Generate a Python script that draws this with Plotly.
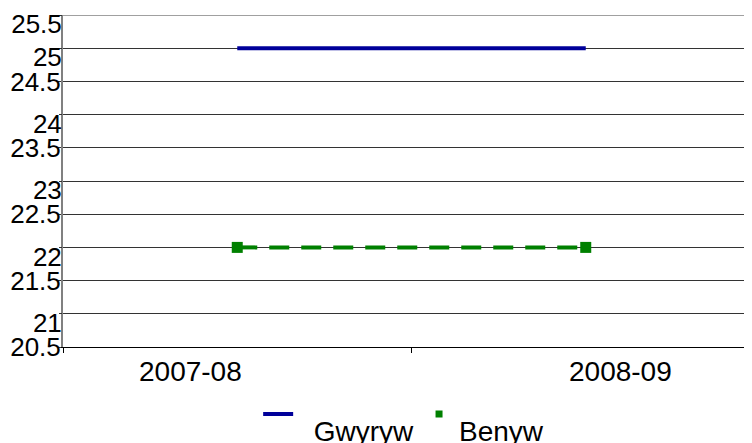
import plotly.graph_objects as go

categories = ["2007-08", "2008-09"]
gwyryw = [25, 25]
benyw = [22, 22]
half_ticks = [20.5, 21.5, 22.5, 23.5, 24.5]
half_labels = ["20.5", "21.5", "22.5", "23.5", "24.5"]
upper_ticks = [21, 22, 23, 24, 25, 25.5]
upper_labels = ["21", "22", "23", "24", "25", "25.5"]
series_names = ["Gwyryw", "Benyw"]

BLUE = "#00009A"
GREEN = "#008000"
FONT = "Liberation Sans, Arial, sans-serif"

fig = go.Figure()
fig.add_trace(go.Scatter(
    x=categories, y=gwyryw, name="\u00a0<br><span style='font-size:28px'>\u00a0\u00a0" + series_names[0] + "</span>",
    mode="lines", line=dict(color=BLUE, width=4), yaxis="y2", legendgroup="g",
))
fig.add_trace(go.Scatter(
    x=categories, y=benyw, name=series_names[1], mode="lines+markers",
    line=dict(color=GREEN, width=4, dash="20px,12px"),
    marker=dict(symbol="square", size=11, color=GREEN),
    showlegend=False, legendgroup="b",
))
# legend-only entry (no data) so that the key shows just the small square
fig.add_trace(go.Scatter(
    x=[None], y=[None], name="\u00a0<br><span style='font-size:28px'>" + series_names[1] + "</span>",
    mode="markers", marker=dict(symbol="square", size=7, color=GREEN),
    legendgroup="b",
))

fig.update_layout(
    width=752, height=443,
    margin=dict(l=55, r=0, t=7, b=104, autoexpand=False),
    paper_bgcolor="white", plot_bgcolor="white",
    font=dict(family=FONT, size=26, color="black"),
    showlegend=True,
    legend=dict(orientation="h", x=0.28, xanchor="left", y=-0.151, yanchor="top",
                font=dict(size=16), valign="top", itemwidth=30, traceorder="normal",
                tracegroupgap=2),
    xaxis=dict(
        type="category", range=[-0.5, 1.5],
        tickson="boundaries", ticks="outside", ticklen=5, tickcolor="black",
        showgrid=False, showline=True, linecolor="black", linewidth=1,
        showticklabels=False,
    ),
    yaxis=dict(
        range=[20.5, 25.5], tickvals=half_ticks, ticktext=half_labels,
        showgrid=True, gridcolor="#333333", gridwidth=1,
        ticks="outside", ticklen=3, tickcolor="#333333",
        showline=True, linecolor="#808080", linewidth=2,
        zeroline=False, tickfont=dict(size=26), ticklabelstandoff=-8,
        automargin=False,
    ),
    yaxis2=dict(
        overlaying="y", side="left", anchor="x",
        range=[20.5, 25.5], tickvals=upper_ticks, ticktext=upper_labels,
        showgrid=True, gridcolor="#333333", gridwidth=1,
        ticks="outside", ticklen=3, tickcolor="#333333",
        showline=False, zeroline=False,
        tickfont=dict(size=26), ticklabelstandoff=-8, ticklabelshift=9,
        automargin=False,
    ),
)
fig.add_shape(type="line", xref="paper", yref="y", x0=0, x1=1, y0=25.5, y1=25.5,
              line=dict(color="#808080", width=1.5))

label_shifts = [-47, 35]
for cat, dx in zip(categories, label_shifts):
    fig.add_annotation(x=cat, xref="x", y=0, yref="paper", text=cat,
                       showarrow=False, xanchor="center", yanchor="middle",
                       xshift=dx, yshift=-24, font=dict(size=28, family=FONT))

fig.write_html("out.html")
